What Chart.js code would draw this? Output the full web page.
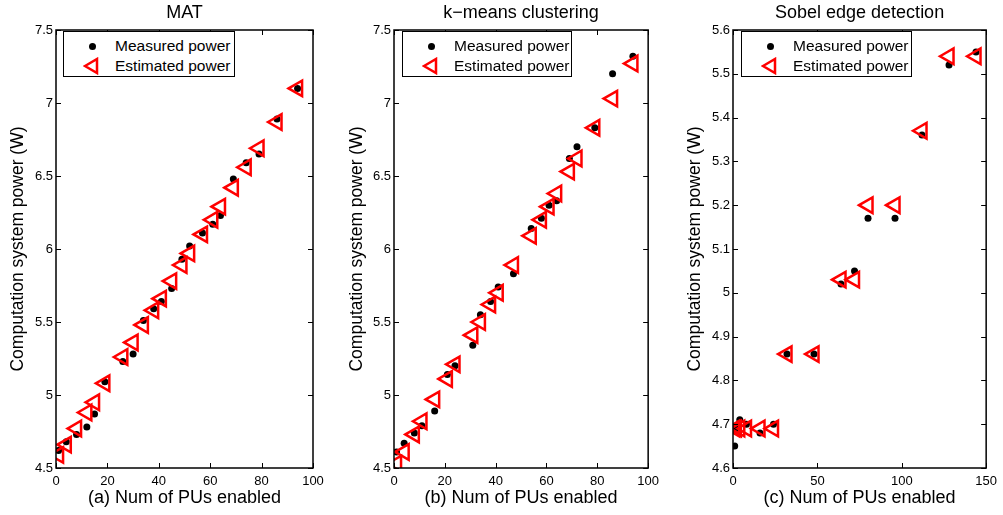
<!DOCTYPE html>
<html>
<head>
<meta charset="utf-8">
<script src="https://cdn.jsdelivr.net/npm/chart.js@4.4.1/dist/chart.umd.min.js"></script>
<style>
  body { margin: 0; background: #fff; font-family: "Liberation Sans", Arial, sans-serif; }
  #wrap { position: relative; width: 1003px; height: 515px; overflow: hidden; }
  .panel { position: absolute; top: 0; height: 515px; }
  .legend { position: absolute; background: #fff; border: 1px solid #000; box-sizing: border-box;
            font-size: 15.5px; color: #000; }
  .legend .item { position: absolute; left: 0; right: 0; height: 20px; line-height: 20px; }
  .legend .item span { position: absolute; left: 51px; top: 0; white-space: nowrap; }
  .legend .dot { position: absolute; left: 24.5px; top: 6.5px; width: 7px; height: 7px; border-radius: 50%; background: #000; }
  .legend svg { position: absolute; left: 19px; top: 1px; }
</style>
</head>
<body>
<div id="wrap">
  <div class="panel" style="left:0;width:330px"><canvas id="chartMat"></canvas></div>
  <div class="panel" style="left:330px;width:335px"><canvas id="chartKmeans"></canvas></div>
  <div class="panel" style="left:665px;width:338px"><canvas id="chartSobel"></canvas></div>
</div>
<script>
// ---- data ----
const matPUs       = [1, 4, 8, 12, 15, 19, 26, 30, 34, 38, 41, 45, 49, 52, 57, 61, 64, 69, 74, 79, 86, 94];
const matMeasured  = [4.62, 4.68, 4.73, 4.78, 4.87, 5.09, 5.23, 5.28, 5.51, 5.59, 5.64, 5.73, 5.93, 6.02, 6.11, 6.17, 6.23, 6.48, 6.59, 6.65, 6.89, 7.10];
const matEstimated = [4.59, 4.66, 4.77, 4.88, 4.95, 5.08, 5.26, 5.36, 5.48, 5.58, 5.66, 5.78, 5.89, 5.97, 6.10, 6.20, 6.29, 6.42, 6.56, 6.69, 6.87, 7.10];

const kmPUs        = [1, 4, 8, 11, 16, 21, 24, 31, 34, 38, 41, 47, 54, 58, 61, 64, 69, 72, 79, 86, 94];
const kmMeasured   = [4.61, 4.67, 4.74, 4.79, 4.89, 5.14, 5.20, 5.34, 5.55, 5.64, 5.74, 5.83, 6.14, 6.21, 6.30, 6.33, 6.62, 6.70, 6.83, 7.20, 7.32];
const kmEstimated  = [4.53, 4.61, 4.73, 4.82, 4.97, 5.11, 5.21, 5.41, 5.50, 5.62, 5.70, 5.89, 6.09, 6.20, 6.29, 6.38, 6.53, 6.62, 6.83, 7.03, 7.27];

const sobelPUs       = [1, 2, 4, 8, 16, 24, 32, 48, 64, 72, 80, 96, 112, 128, 144];
const sobelMeasured  = [4.65, 4.69, 4.71, 4.70, 4.68, 4.70, 4.86, 4.86, 5.02, 5.05, 5.17, 5.17, 5.36, 5.52, 5.55];
const sobelEstimated = [4.69, 4.69, 4.69, 4.69, 4.69, 4.69, 4.86, 4.86, 5.03, 5.03, 5.20, 5.20, 5.37, 5.54, 5.54];

const seriesNames = ['Measured power', 'Estimated power'];
const yTitle = 'Computation system power (W)';
const fontFamily = '"Liberation Sans", Arial, sans-serif';

// inward tick marks on all four sides + box frame, like the original figure
const frameTicks = {
  id: 'frameTicks',
  afterDatasetsDraw(chart) {
    const { ctx, chartArea: a, scales } = chart;
    const len = 5;
    ctx.save();
    ctx.strokeStyle = '#000';
    ctx.lineWidth = 1;
    ctx.beginPath();
    scales.x.ticks.forEach(t => {
      const px = Math.round(scales.x.getPixelForValue(t.value)) + 0.5;
      ctx.moveTo(px, a.bottom); ctx.lineTo(px, a.bottom - len);
      ctx.moveTo(px, a.top);    ctx.lineTo(px, a.top + len);
    });
    scales.y.ticks.forEach(t => {
      const py = Math.round(scales.y.getPixelForValue(t.value)) + 0.5;
      ctx.moveTo(a.left, py);  ctx.lineTo(a.left + len, py);
      ctx.moveTo(a.right, py); ctx.lineTo(a.right - len, py);
    });
    ctx.stroke();
    ctx.lineWidth = 1.5;
    ctx.strokeRect(a.left, a.top, a.right - a.left, a.bottom - a.top);
    ctx.restore();
  }
};

function makePanel(id, cfg) {
  const pts = (xs, ys) => xs.map((x, i) => ({ x: x, y: ys[i] }));
  return new Chart(document.getElementById(id), {
    type: 'scatter',
    data: {
      datasets: [
        { label: seriesNames[0], data: pts(cfg.x, cfg.measured), order: 1,
          pointStyle: 'circle', pointRadius: 3.5, backgroundColor: '#000', borderWidth: 0 },
        { label: seriesNames[1], data: pts(cfg.x, cfg.estimated), order: 0,
          pointStyle: 'triangle', pointRotation: -90, pointRadius: 9,
          backgroundColor: 'rgba(0,0,0,0)', borderColor: '#ff0000', borderWidth: 2.5 }
      ]
    },
    options: {
      responsive: true,
      maintainAspectRatio: false,
      animation: false,
      events: [],
      layout: { padding: { left: 0, right: cfg.padRight, top: 0, bottom: 0 } },
      plugins: {
        legend: { display: false },
        tooltip: { enabled: false },
        title: {
          display: true, text: cfg.title, fullSize: false, color: '#000',
          font: { family: fontFamily, size: 18, weight: 'normal' },
          padding: { top: 2, bottom: 6.4 }
        }
      },
      scales: {
        x: {
          type: 'linear', min: 0, max: cfg.xMax,
          grid: { display: false, drawTicks: false },
          border: { display: false },
          ticks: { stepSize: cfg.xStep, color: '#000', padding: 6,
                   font: { family: fontFamily, size: 13 } },
          title: { display: true, text: cfg.xTitle, color: '#000',
                   font: { family: fontFamily, size: 18 },
                   padding: { top: 0, bottom: 6 } },
          afterFit: s => { s.height = 47; }
        },
        y: {
          type: 'linear', min: cfg.yMin, max: cfg.yMax,
          grid: { display: false, drawTicks: false },
          border: { display: false },
          ticks: { stepSize: cfg.yStep, color: '#000', padding: 3,
                   callback: v => String(Math.round(v * 10) / 10),
                   font: { family: fontFamily, size: 13 } },
          title: { display: true, text: yTitle, color: '#000',
                   font: { family: fontFamily, size: 17.5 },
                   padding: { top: cfg.yTitlePad, bottom: 0 } },
          afterFit: s => { s.width = cfg.yWidth; }
        }
      }
    },
    plugins: [frameTicks]
  });
}

function addLegend(left, top, width) {
  const box = document.createElement('div');
  box.className = 'legend';
  box.style.left = left + 'px';
  box.style.top = top + 'px';
  box.style.width = width + 'px';
  box.style.height = '46px';
  box.innerHTML =
    '<div class="item" style="top:4px"><div class="dot"></div><span>' + seriesNames[0] + '</span></div>' +
    '<div class="item" style="top:24px"><svg width="18" height="18" viewBox="0 0 18 18">' +
    '<polygon points="2,9 14,2 14,16" fill="none" stroke="#ff0000" stroke-width="2.5"/></svg>' +
    '<span>' + seriesNames[1] + '</span></div>';
  document.getElementById('wrap').appendChild(box);
}

makePanel('chartMat', {
  title: 'MAT', xTitle: '(a) Num of PUs enabled',
  x: matPUs, measured: matMeasured, estimated: matEstimated,
  xMax: 100, xStep: 20, yMin: 4.5, yMax: 7.5, yStep: 0.5,
  yWidth: 56, yTitlePad: 7.5, padRight: 17
});
makePanel('chartKmeans', {
  title: 'k\u2212means clustering', xTitle: '(b) Num of PUs enabled',
  x: kmPUs, measured: kmMeasured, estimated: kmEstimated,
  xMax: 100, xStep: 20, yMin: 4.5, yMax: 7.5, yStep: 0.5,
  yWidth: 64, yTitlePad: 16.5, padRight: 13
});
makePanel('chartSobel', {
  title: 'Sobel edge detection', xTitle: '(c) Num of PUs enabled',
  x: sobelPUs, measured: sobelMeasured, estimated: sobelEstimated,
  xMax: 150, xStep: 50, yMin: 4.6, yMax: 5.6, yStep: 0.1,
  yWidth: 68, yTitlePad: 19.5, padRight: 13
});

addLegend(63, 31, 172);
addLegend(402, 31, 170);
addLegend(741, 31, 171);
</script>
</body>
</html>
